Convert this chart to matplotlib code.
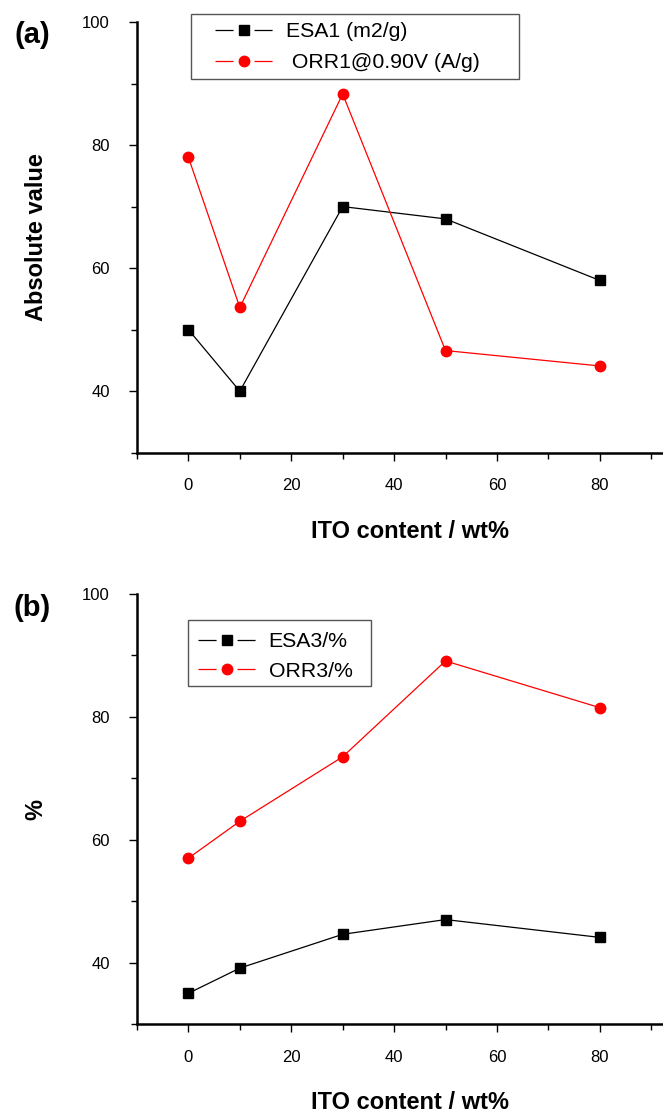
import matplotlib
matplotlib.use("Agg")
import matplotlib.pyplot as plt
from matplotlib.lines import Line2D
from matplotlib.patches import Rectangle
from matplotlib.ticker import MultipleLocator

# ITO content (wt%)
ito = [0, 10, 30, 50, 80]

# panel (a)
esa1 = [50.0, 40.0, 70.0, 68.0, 58.0]
orr1 = [78.0, 53.6, 88.3, 46.6, 44.1]

# panel (b)
esa3 = [35.0, 39.1, 44.6, 47.0, 44.1]
orr3 = [57.0, 63.0, 73.5, 89.1, 81.5]

labels_a = ["ESA1 (m2/g)", " ORR1@0.90V (A/g)"]
labels_b = ["ESA3/%", "ORR3/%"]

W, H = 663, 1116
fig = plt.figure(figsize=(W / 100, H / 100), dpi=100)
plt.rcParams["lines.scale_dashes"] = False

FAM = ["Liberation Sans", "DejaVu Sans"]
label_font = dict(family=FAM, size=17, weight="bold")


def setup(ax, ylabel):
    ax.set_xlim(-10, 92.3)
    ax.set_ylim(30, 100)
    for s in ("top", "right"):
        ax.spines[s].set_visible(False)
    for s in ("left", "bottom"):
        ax.spines[s].set_linewidth(1.8)
    ax.xaxis.set_major_locator(MultipleLocator(20))
    ax.xaxis.set_minor_locator(MultipleLocator(10))
    ax.yaxis.set_major_locator(MultipleLocator(20))
    ax.yaxis.set_minor_locator(MultipleLocator(10))
    ax.tick_params(which="major", direction="out", length=5.5, width=1.0)
    ax.tick_params(which="minor", direction="out", length=4, width=1.0)
    ax.tick_params(axis="x", which="major", pad=13)
    ax.tick_params(axis="y", which="major", pad=14)
    for t in ax.get_xticklabels() + ax.get_yticklabels():
        t.set_fontfamily(FAM)
        t.set_fontsize(12)
    ax.set_xlabel("ITO content / wt%", **label_font)
    ax.set_ylabel(ylabel, **label_font)
    ax.xaxis.set_label_coords(0.519, -0.183)
    ax.xaxis.label.set_va("center")
    ax.yaxis.set_label_coords(-0.192, 0.5)
    ax.yaxis.label.set_va("center")


def draw(ax, esa, orr):
    ax.plot(ito, esa, color="black", lw=0.9, marker="s", ms=7)
    ax.plot(ito, orr, color="red", lw=0.9, marker="o", ms=7.5)


def legend(ax, labels, x0, yc, spacing, box):
    # Origin-style handles: line broken around the marker
    dash = (0, (13, 15.1))
    h = [Line2D([], [], color="black", lw=0.9, ls=dash, marker="s", ms=7),
         Line2D([], [], color="red", lw=0.9, ls=dash, marker="o", ms=7.5)]
    leg = ax.legend(h, labels, loc="center left",
                    bbox_to_anchor=(x0 / W, 1 - yc / H), bbox_transform=fig.transFigure,
                    prop=dict(family=FAM, size=15.3), frameon=False,
                    handlelength=2.74, handletextpad=0.58, borderpad=0,
                    borderaxespad=0, labelspacing=spacing, numpoints=1)
    bx0, by0, bx1, by1 = box
    fig.patches.append(Rectangle((bx0 / W, 1 - by1 / H), (bx1 - bx0) / W, (by1 - by0) / H,
                                 transform=fig.transFigure, fill=False,
                                 edgecolor="#555555", lw=1.0, zorder=5))
    return leg


left = 137 / W
width = 1 - left

ax1 = fig.add_axes([left, 1 - 452.7 / H, width, 430.7 / H])
draw(ax1, esa1, orr1)
setup(ax1, "Absolute value")
legend(ax1, labels_a, 215, 47.2, 0.58, (190.7, 14.3, 519, 79))

ax2 = fig.add_axes([left, 1 - 1024 / H, width, 430 / H])
draw(ax2, esa3, orr3)
setup(ax2, "%")
legend(ax2, labels_b, 198, 656.4, 0.5, (188.3, 620, 370.7, 686))

fig.text(32.5 / W, 1 - 35 / H, "(a)", ha="center", va="center",
         family=FAM, size=21, weight="bold")
fig.text(32.5 / W, 1 - 608 / H, "(b)", ha="center", va="center",
         family=FAM, size=21, weight="bold")

fig.savefig("out.png", dpi=100)
